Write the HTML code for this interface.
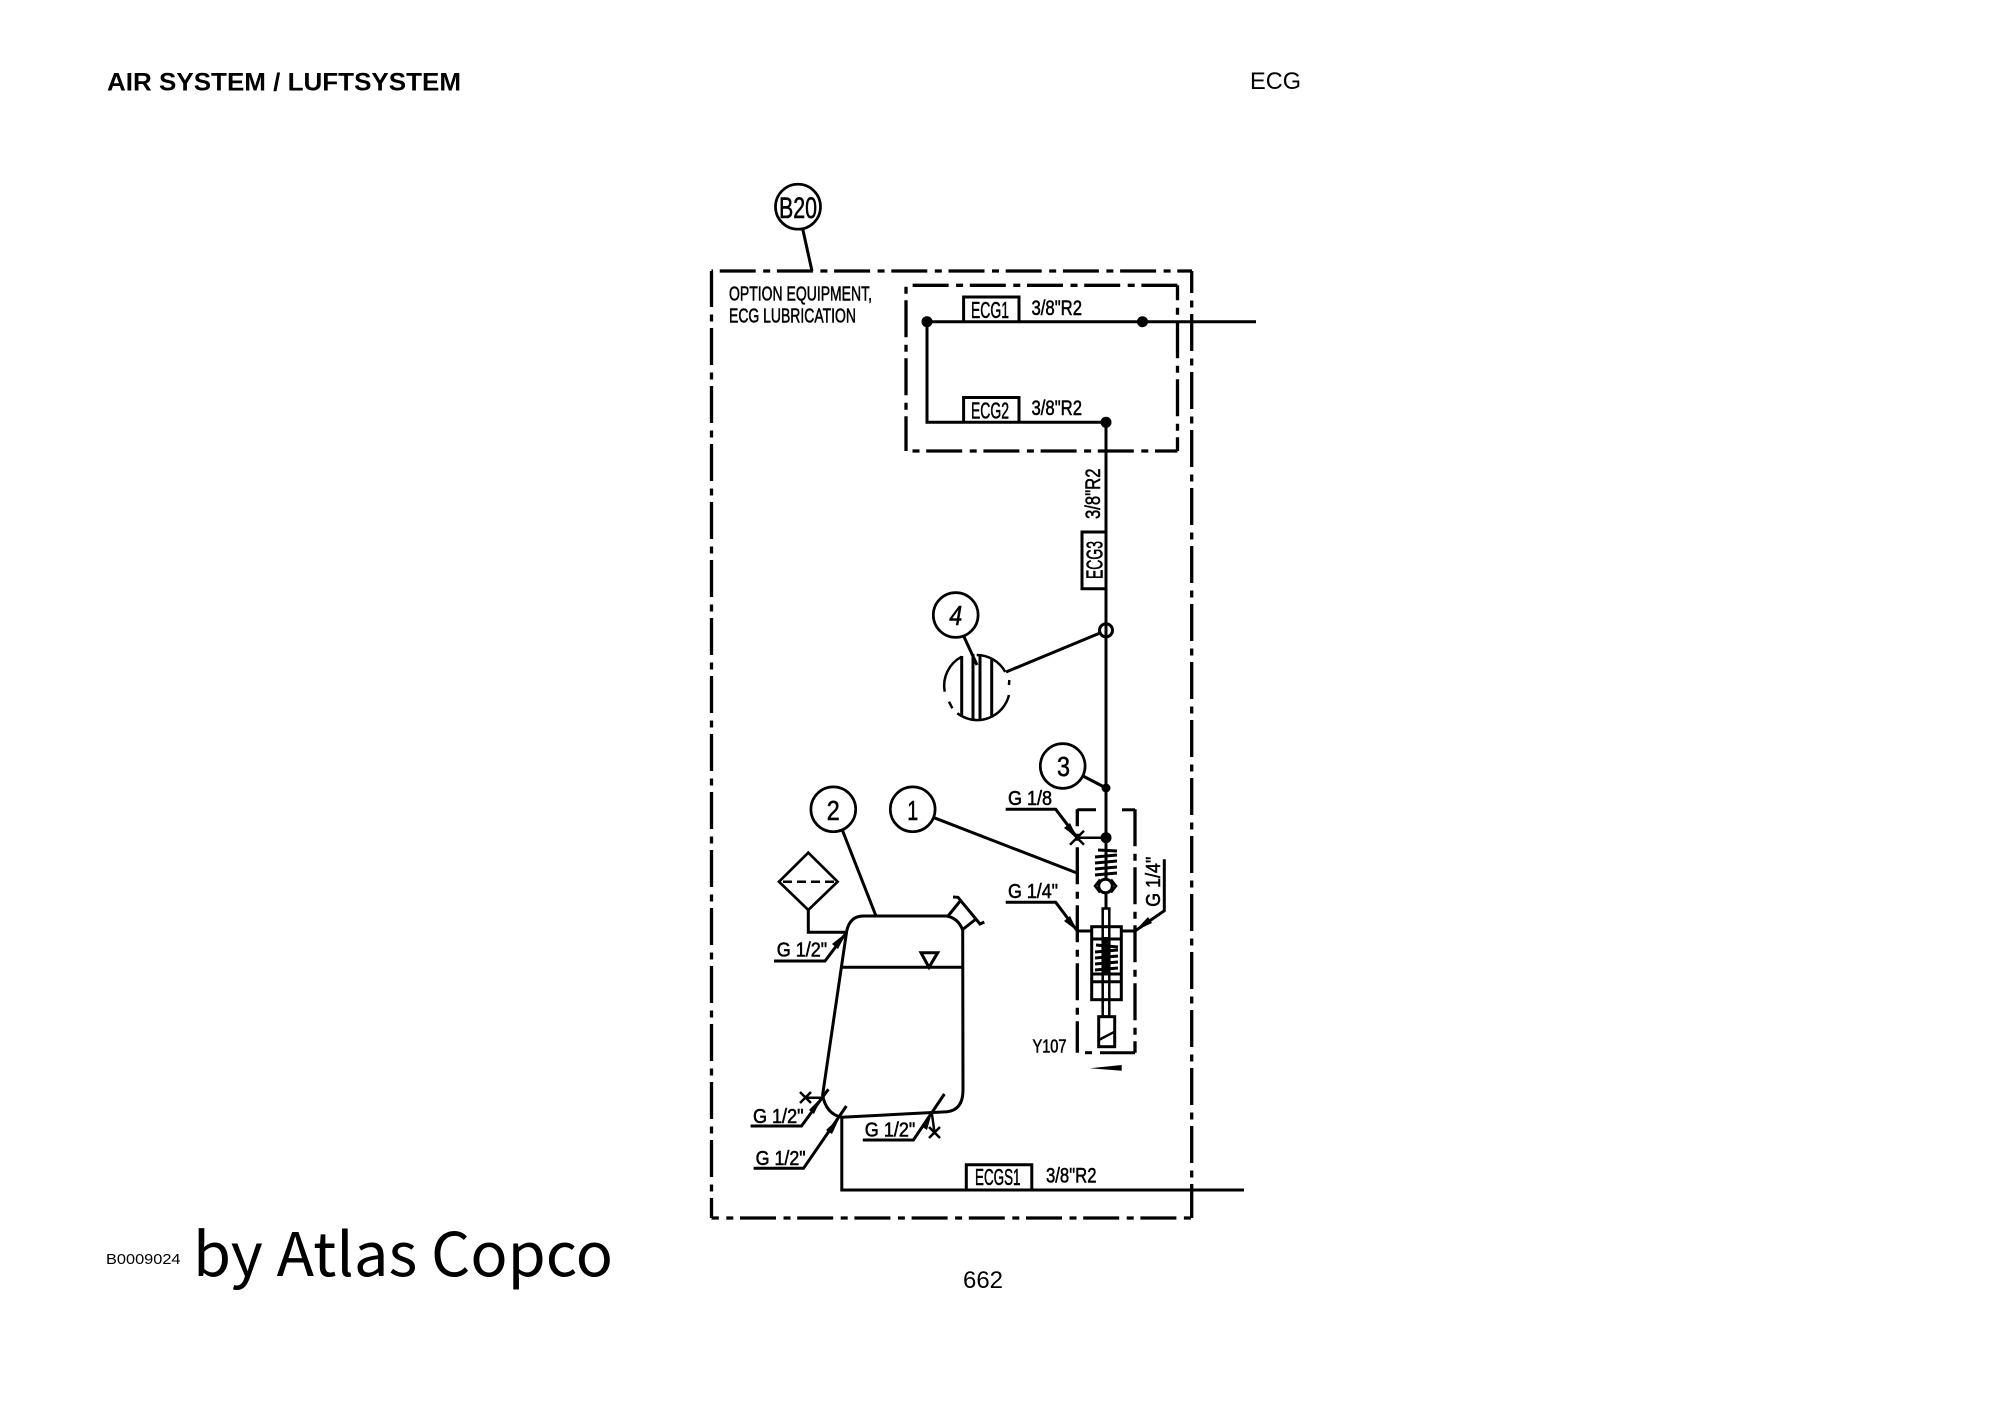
<!DOCTYPE html>
<html>
<head>
<meta charset="utf-8">
<style>
html,body{margin:0;padding:0;background:#fff;width:2000px;height:1415px;overflow:hidden}
svg{display:block}
.l{stroke:#000;fill:none;stroke-width:3}
.r{stroke:#000;fill:none;stroke-width:2.7}
.t{stroke:#000;fill:none;stroke-width:2.5}
.d{stroke:#000;fill:none;stroke-width:3.3;stroke-dasharray:37 7.5 7 6.5}
.dh{stroke:#000;fill:none;stroke-width:3.3;stroke-dasharray:36 7.5 7 6.7}
.c{font-family:"Liberation Sans",sans-serif;fill:#000;stroke:#000;stroke-width:.55}
.h{font-family:"Liberation Sans",sans-serif;fill:#000}
</style>
</head>
<body>
<svg width="2000" height="1415" viewBox="0 0 2000 1415" xmlns="http://www.w3.org/2000/svg">
<rect width="2000" height="1415" fill="#fff"/>
<!-- page text -->
<text class="h" x="107" y="90.5" font-size="25" font-weight="700" textLength="354" lengthAdjust="spacingAndGlyphs">AIR SYSTEM / LUFTSYSTEM</text>
<text class="h" x="1250" y="89" font-size="24" textLength="51" lengthAdjust="spacingAndGlyphs">ECG</text>
<text class="h" x="963" y="1288" font-size="24" textLength="40" lengthAdjust="spacingAndGlyphs">662</text>
<text class="h" x="106" y="1264" font-size="15" textLength="74.5" lengthAdjust="spacingAndGlyphs">B0009024</text>
<text x="193" y="1276" font-family="'Noto Sans CJK SC','Liberation Sans',sans-serif" font-size="60" fill="#000" textLength="420" lengthAdjust="spacingAndGlyphs">by Atlas Copco</text>

<!-- outer box -->
<line class="dh" x1="711.5" y1="271" x2="1192" y2="271" style="stroke-dashoffset:49"/>
<line class="d" x1="1191.7" y1="271" x2="1191.7" y2="1218" style="stroke-dashoffset:15"/>
<line class="dh" x1="711.5" y1="1218" x2="1192" y2="1218" style="stroke-dashoffset:28.7"/>
<line class="d" x1="711.5" y1="271" x2="711.5" y2="1218" style="stroke-dashoffset:1"/>
<!-- inner box -->
<line class="dh" x1="906" y1="285.3" x2="1177.5" y2="285.3" style="stroke-dashoffset:50.6"/>
<line class="d" x1="1177.5" y1="285.3" x2="1177.5" y2="451" style="stroke-dashoffset:22"/>
<line class="dh" x1="906" y1="451" x2="1177.5" y2="451" style="stroke-dashoffset:37"/>
<line class="d" x1="906" y1="285.3" x2="906" y2="451" style="stroke-dashoffset:43"/>

<!-- B20 -->
<circle class="r" cx="798" cy="206.7" r="22.5"/>
<text class="c" x="798" y="218" font-size="30" text-anchor="middle" textLength="38" lengthAdjust="spacingAndGlyphs">B20</text>
<line class="l" x1="802.7" y1="229" x2="812" y2="271"/>
<text class="c" x="729" y="300.5" font-size="20" textLength="143" lengthAdjust="spacingAndGlyphs">OPTION EQUIPMENT,</text>
<text class="c" x="729" y="322.5" font-size="20" textLength="127" lengthAdjust="spacingAndGlyphs">ECG LUBRICATION</text>

<!-- top pipes -->
<polyline class="l" points="1256,321.7 927,321.7 927,422.3 1106,422.3 1106,838"/>
<circle cx="927" cy="321.7" r="5.5"/>
<circle cx="1142.5" cy="321.7" r="5.5"/>
<circle cx="1106" cy="422.3" r="5.5"/>
<polyline class="l" points="963.6,321.7 963.6,297 1019,297 1019,321.7"/>
<polyline class="l" points="963.6,422.3 963.6,397.5 1019,397.5 1019,422.3"/>
<text class="c" x="971" y="318" font-size="23" textLength="38" lengthAdjust="spacingAndGlyphs">ECG1</text>
<text class="c" x="971" y="418.5" font-size="23" textLength="38" lengthAdjust="spacingAndGlyphs">ECG2</text>
<text class="c" x="1031.5" y="315" font-size="21" textLength="50.5" lengthAdjust="spacingAndGlyphs">3/8"R2</text>
<text class="c" x="1031.5" y="415" font-size="21" textLength="50.5" lengthAdjust="spacingAndGlyphs">3/8"R2</text>

<!-- ECG3 -->
<text class="c" transform="translate(1100,519) rotate(-90)" font-size="21" textLength="50.5" lengthAdjust="spacingAndGlyphs">3/8"R2</text>
<polyline class="l" points="1106,532 1082,532 1082,588.7 1106,588.7"/>
<text class="c" transform="translate(1102.7,579) rotate(-90)" font-size="23" textLength="38" lengthAdjust="spacingAndGlyphs">ECG3</text>

<!-- item 4 -->
<circle class="l" cx="1106" cy="630.3" r="6.5"/>
<line class="l" x1="1100" y1="633" x2="1006" y2="672"/>
<circle class="r" cx="955.7" cy="615" r="22.4"/>
<text class="c" x="955.7" y="625" font-size="28" text-anchor="middle" font-style="italic" textLength="13" lengthAdjust="spacingAndGlyphs">4</text>
<line class="l" x1="964" y1="636.7" x2="977" y2="665"/>
<path class="t" d="M961.7,656.7A32.7,32.7 0 0 0 944.7,691.7M949,701.7L952.3,708.3M957.3,713.3A32.7,32.7 0 0 0 1009,695M1009.3,680L1009,685M1005.3,672A32.7,32.7 0 0 0 976.7,655"/>
<line class="l" x1="961.7" y1="656" x2="961.7" y2="716"/>
<line class="l" x1="973" y1="654" x2="973" y2="719"/>
<line class="l" x1="980" y1="654" x2="980" y2="719"/>
<line class="l" x1="991.7" y1="658" x2="991.7" y2="716"/>

<!-- item 3 -->
<circle class="r" cx="1062.7" cy="766" r="22.4"/>
<text class="c" x="1063.5" y="776" font-size="28" text-anchor="middle" textLength="13" lengthAdjust="spacingAndGlyphs">3</text>
<line class="l" x1="1083" y1="776" x2="1106" y2="788"/>
<circle cx="1106" cy="788" r="4.5"/>
<circle cx="1106" cy="837.7" r="5.5"/>

<!-- valve dashed box -->
<line class="l" x1="1077.3" y1="809.8" x2="1096" y2="809.8"/>
<line class="l" x1="1122" y1="809.8" x2="1135" y2="809.8"/>
<line class="d" x1="1077.3" y1="809.3" x2="1077.3" y2="1052.7" style="stroke-dashoffset:20"/>
<line class="d" x1="1135" y1="809.3" x2="1135" y2="1052.7" style="stroke-dashoffset:0"/>
<line class="l" x1="1085" y1="1052.7" x2="1092" y2="1052.7"/>
<line class="l" x1="1100" y1="1052.7" x2="1135" y2="1052.7"/>

<!-- valve -->
<line class="t" x1="1077" y1="837.7" x2="1106" y2="837.7"/>
<path class="t" d="M1070,830.7l14,14M1084,830.7l-14,14"/>
<line class="l" x1="1106" y1="838" x2="1106" y2="878"/>
<path stroke="#000" stroke-width="3" fill="none" d="M1098,850L1117,851M1095,857L1117,855M1095,863L1117,861M1095,869L1117,867M1095,875L1117,873"/>
<circle class="l" cx="1105.5" cy="886" r="6.8"/>
<path class="t" d="M1100,879.5L1095,886L1100,892.5M1111,879.5L1116,886L1111,892.5"/>
<line class="l" x1="1106" y1="893" x2="1106" y2="908"/>
<rect class="t" x="1102.7" y="908.5" width="6.6" height="108"/>
<rect class="l" x="1091.7" y="926.7" width="29.6" height="73"/>
<line class="l" x1="1091.7" y1="939" x2="1121.3" y2="939"/>
<line class="l" x1="1091.7" y1="974" x2="1121.3" y2="974" stroke-width="4"/>
<line class="l" x1="1091.7" y1="981.7" x2="1121.3" y2="981.7"/>
<line class="l" x1="1077.3" y1="931" x2="1091.7" y2="931"/>
<line class="l" x1="1121.3" y1="931" x2="1135" y2="931"/>
<path stroke="#000" stroke-width="3" fill="none" d="M1096,945L1118,947M1095,952L1118,950M1095,958L1118,956M1095,964L1118,962M1095,970L1118,968"/>
<line x1="1106" y1="937" x2="1106" y2="974" stroke="#000" stroke-width="7"/>
<rect class="l" x="1098.7" y="1016.7" width="16" height="30"/>
<line class="t" x1="1098.7" y1="1040" x2="1114.7" y2="1031.7"/>
<polygon points="1090,1068.3 1121.7,1065 1121.7,1070.7"/>

<!-- valve labels -->
<polyline class="l" points="1005.7,809.3 1055.7,809.3 1077.3,837.7"/>
<polygon points="1077.3,837.7 1064,828 1070,823"/>
<text class="c" x="1008" y="805" font-size="20" textLength="44" lengthAdjust="spacingAndGlyphs">G 1/8</text>
<polyline class="l" points="1005.7,902.3 1055.7,902.3 1077.3,931"/>
<polygon points="1077.3,931 1064,921 1070,916"/>
<text class="c" x="1008" y="898" font-size="20" textLength="50" lengthAdjust="spacingAndGlyphs">G 1/4"</text>
<polyline class="l" points="1164.3,859.3 1164.3,910.7 1135,931"/>
<polygon points="1135,931 1148,917 1152,923"/>
<text class="c" transform="translate(1160,906.7) rotate(-90)" font-size="20" textLength="50" lengthAdjust="spacingAndGlyphs">G 1/4"</text>
<text class="c" x="1032.5" y="1052.5" font-size="18" textLength="34" lengthAdjust="spacingAndGlyphs">Y107</text>

<!-- items 1, 2 -->
<circle class="r" cx="912.7" cy="809.3" r="22.4"/>
<text class="c" x="912.7" y="820" font-size="28" text-anchor="middle" textLength="11" lengthAdjust="spacingAndGlyphs">1</text>
<line class="l" x1="934" y1="817.7" x2="1077" y2="873"/>
<circle class="r" cx="833.3" cy="809.3" r="22.4"/>
<text class="c" x="833.3" y="820" font-size="28" text-anchor="middle" textLength="13" lengthAdjust="spacingAndGlyphs">2</text>
<line class="l" x1="842.3" y1="830" x2="876" y2="916"/>

<!-- filter -->
<polygon class="r" points="808.3,852.7 837.6,881.7 808.3,910 779,881.7"/>
<line class="t" x1="783" y1="881.7" x2="834" y2="881.7" stroke-dasharray="9 5"/>
<polyline class="l" points="808.3,910 808.3,932.3 846.7,932.3"/>

<!-- tank -->
<path class="l" stroke-width="3.4" d="M846.7,931 Q850,916 863.3,916 L946.7,916 Q958,918 962.7,930 L963,1090 Q963,1110 947,1111.7 L841.8,1117.3 Q826,1114 822.6,1095 L846.7,931" />
<line class="l" x1="841.7" y1="967.3" x2="962.7" y2="967.3"/>
<polygon class="l" points="921,952.7 937.7,952.7 929,967.3"/>
<path class="l" d="M948,916L961,900M962,930L976,919M953,897L958,897.3L980,924L984.3,922"/>

<!-- tank labels -->
<polyline class="l" points="774,961 825,961 846.7,932.3"/>
<polygon points="846.7,932.3 832,944 838,949"/>
<text class="c" x="776.7" y="956.5" font-size="20" textLength="50.5" lengthAdjust="spacingAndGlyphs">G 1/2"</text>

<polyline class="l" points="750.6,1126 801.5,1126 828.4,1089.3"/>
<polygon points="822,1096.7 809,1110 814,1114"/>
<text class="c" x="753" y="1123" font-size="20" textLength="50.5" lengthAdjust="spacingAndGlyphs">G 1/2"</text>
<line class="t" x1="805.4" y1="1097.7" x2="822" y2="1097.7"/>
<path class="t" d="M800,1092l11,11M811,1092l-11,11"/>

<polyline class="l" points="753.6,1168.3 803.5,1168.3 846.4,1106"/>
<polygon points="839.8,1117.3 826,1130 832,1134"/>
<text class="c" x="755.6" y="1165" font-size="20" textLength="50" lengthAdjust="spacingAndGlyphs">G 1/2"</text>

<polyline class="l" points="862.8,1140 913.4,1140 944.4,1094"/>
<polygon points="931.8,1113 921,1126 927,1130"/>
<text class="c" x="864.8" y="1136.5" font-size="20" textLength="50.5" lengthAdjust="spacingAndGlyphs">G 1/2"</text>
<line class="t" x1="931.8" y1="1113" x2="934.5" y2="1132.3"/>
<path class="t" d="M929,1127l11,11M940,1127l-11,11"/>

<!-- bottom pipe -->
<polyline class="l" points="841.8,1117.3 841.8,1190 1244,1190"/>
<polyline class="l" points="966.3,1190 966.3,1164.7 1031.8,1164.7 1031.8,1190"/>
<text class="c" x="975" y="1185" font-size="23" textLength="45.5" lengthAdjust="spacingAndGlyphs">ECGS1</text>
<text class="c" x="1046" y="1182.3" font-size="21" textLength="50.5" lengthAdjust="spacingAndGlyphs">3/8"R2</text>
</svg>
</body>
</html>
